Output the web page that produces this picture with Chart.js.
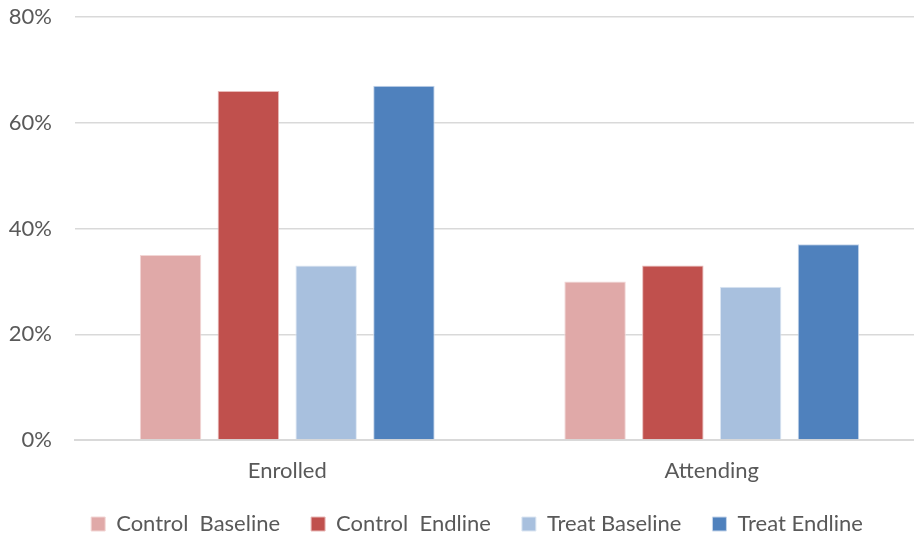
<!DOCTYPE html>
<html>
<head>
<meta charset="utf-8">
<script src="https://cdn.jsdelivr.net/npm/chart.js@4"></script>
<style>
  html, body { margin: 0; padding: 0; background: #ffffff; overflow: hidden; }
  #wrap { width: 914px; height: 537px; position: relative; overflow: hidden; }
  #chart { position: absolute; left: 0; top: 0; }
</style>
</head>
<body>
<div id="wrap"><canvas id="chart" width="924" height="537"></canvas></div>
<script>
// Share of children enrolled / attending, by group and survey round (percent)
const categories = ['Enrolled', 'Attending'];
const controlBaseline = [35, 30];
const controlEndline = [66, 33];
const treatBaseline = [33, 29];
const treatEndline = [67, 37];
const seriesNames = ['Control  Baseline', 'Control  Endline', 'Treat Baseline', 'Treat Endline'];
const yTicks = [0, 20, 40, 60, 80];

const textColor = '#595959';
const fontFamily = 'Lato, "Open Sans", sans-serif';
const fontSize = 22;

const fills = ['#E0A9A8', '#C0504D', '#A8C0DE', '#4F81BD'];
const edges = ['#F2D6D5', '#E8B9B8', '#DCE6F2', '#C5D5EA'];

const seriesValues = [controlBaseline, controlEndline, treatBaseline, treatEndline];
const datasets = seriesValues.map((vals, i) => ({
  label: seriesNames[i],
  data: vals,
  backgroundColor: fills[i],
  borderColor: edges[i],
  borderWidth: 1,
  categoryPercentage: 0.733,
  barPercentage: 0.79
}));

// Keep the legend strip compact vertically while items stay widely spaced,
// and nudge it a little.
const legendTweak = {
  id: 'legendTweak',
  beforeInit(chart) {
    const lg = chart.legend;
    if (!lg) return;
    const fit = lg.fit.bind(lg);
    lg.fit = function () { fit(); this.height = 51; };
    const draw = lg.draw.bind(lg);
    lg.draw = function () {
      const ctx = this.ctx;
      ctx.save();
      ctx.translate(15, -4);
      draw();
      ctx.restore();
    };
  }
};

new Chart(document.getElementById('chart'), {
  type: 'bar',
  data: { labels: categories, datasets },
  plugins: [legendTweak],
  options: {
    responsive: false,
    animation: false,
    devicePixelRatio: 1,
    layout: { padding: { top: 17, right: 0, left: 0, bottom: 0 } },
    plugins: {
      tooltip: { enabled: false },
      legend: {
        position: 'bottom',
        labels: {
          color: textColor,
          font: { family: fontFamily, size: fontSize },
          boxWidth: 14,
          boxHeight: 14,
          padding: 31,
          useBorderRadius: false
        }
      }
    },
    scales: {
      x: {
        grid: { display: false, drawTicks: false },
        border: { display: true, color: '#D9D9D9', width: 2 },
        ticks: { color: textColor, font: { family: fontFamily, size: fontSize }, padding: 18 },
        afterFit(scale) { scale.height = 46; }
      },
      y: {
        min: 0,
        max: 80,
        afterBuildTicks(scale) { scale.ticks = yTicks.map(v => ({ value: v })); },
        grid: { color: '#D9D9D9', lineWidth: 1.5, drawTicks: false },
        border: { display: false },
        ticks: {
          color: textColor,
          font: { family: fontFamily, size: fontSize },
          padding: 23,
          callback: v => v + '%'
        },
        afterFit(scale) {
          scale.width = 75;
          scale.paddingTop = 0;
          scale.paddingBottom = 0;
        }
      }
    }
  }
});
</script>
</body>
</html>
